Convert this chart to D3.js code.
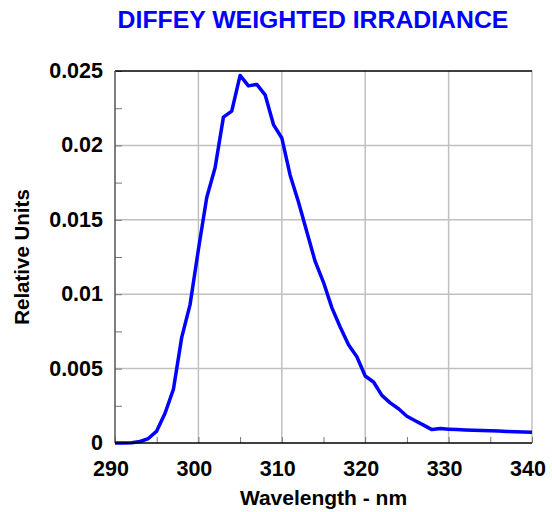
<!DOCTYPE html>
<html>
<head>
<meta charset="utf-8">
<script src="https://cdn.jsdelivr.net/npm/d3@7"></script>
<style>
  body { margin: 0; background: #fff; }
  svg { display: block; font-family: "Liberation Sans", Arial, sans-serif; font-weight: bold; }
</style>
</head>
<body>
<svg id="chart" width="552" height="512"></svg>
<script>
const width = 552;
const height = 512;
const margin = { top: 71, right: 20, bottom: 69, left: 115 };

// wavelength (nm) and Diffey weighted irradiance
const wavelengths = [
  290, 291, 292, 293, 294, 295, 296, 297, 298, 299,
  300, 301, 302, 303, 304, 305, 306, 307, 308, 309,
  310, 311, 312, 313, 314, 315, 316, 317, 318, 319,
  320, 321, 322, 323, 324, 325, 326, 327, 328, 329,
  330, 331, 332, 333, 334, 335, 336, 337, 338, 339, 340
];
const irradiance = [
  0, 0, 0.00002, 0.0001, 0.0003, 0.0008, 0.0020, 0.0036, 0.0071, 0.0093,
  0.0130, 0.0165, 0.0185, 0.0219, 0.0223, 0.0247, 0.0240, 0.0241, 0.0234, 0.0214,
  0.0205, 0.0180, 0.0162, 0.0142, 0.0122, 0.0108, 0.0091, 0.0078, 0.0066, 0.0058,
  0.0045, 0.0041, 0.0032, 0.0027, 0.0023, 0.0018, 0.0015, 0.0012, 0.0009, 0.00097,
  0.00093, 0.0009, 0.00088, 0.00086, 0.00084, 0.00082, 0.0008, 0.00078, 0.00076, 0.00074, 0.00072
];

const xTicks = [290, 300, 310, 320, 330, 340];
const yTicks = [0, 0.005, 0.01, 0.015, 0.02, 0.025];
const yTickLabels = ['0', '0.005', '0.01', '0.015', '0.02', '0.025'];

const data = wavelengths.map((w, i) => ({ w, v: irradiance[i] }));

const svg = d3.select('#chart');
const plotW = width - margin.left - margin.right;
const plotH = height - margin.top - margin.bottom;

const x = d3.scaleLinear().domain([290, 340]).range([margin.left, margin.left + plotW]);
const y = d3.scaleLinear().domain([0, 0.025]).range([margin.top + plotH, margin.top]);

// grid
svg.append('g')
  .selectAll('line')
  .data(xTicks.slice(1))
  .join('line')
  .attr('x1', d => x(d)).attr('x2', d => x(d))
  .attr('y1', y(0)).attr('y2', y(0.025))
  .attr('stroke', '#c0c0c0').attr('stroke-width', 1.5);

svg.append('g')
  .selectAll('line')
  .data(yTicks.slice(1, -1))
  .join('line')
  .attr('x1', x(290)).attr('x2', x(340))
  .attr('y1', d => y(d)).attr('y2', d => y(d))
  .attr('stroke', '#c0c0c0').attr('stroke-width', 1.5);

// minor ticks, pointing inward
svg.append('g')
  .call(d3.axisRight(y).tickValues(d3.range(0, 0.0251, 0.0025)).tickSize(7).tickFormat(''))
  .attr('transform', `translate(${x(290)},0)`)
  .call(g => g.select('.domain').remove())
  .call(g => g.selectAll('.tick line').attr('stroke', '#777').attr('stroke-width', 1));

svg.append('g')
  .call(d3.axisTop(x).tickValues(d3.range(290, 340.1, 5)).tickSize(6).tickFormat(''))
  .attr('transform', `translate(0,${y(0)})`)
  .call(g => g.select('.domain').remove())
  .call(g => g.selectAll('.tick line').attr('stroke', '#777').attr('stroke-width', 1));

// frame
svg.append('line')
  .attr('x1', x(290)).attr('x2', x(340)).attr('y1', y(0.025)).attr('y2', y(0.025))
  .attr('stroke', '#000').attr('stroke-width', 1.5);
svg.append('line')
  .attr('x1', x(290)).attr('x2', x(290)).attr('y1', y(0.025)).attr('y2', y(0))
  .attr('stroke', '#555').attr('stroke-width', 1.5);

// curve
const line = d3.line().x(d => x(d.w)).y(d => y(d.v));
svg.append('path')
  .datum(data)
  .attr('d', line)
  .attr('fill', 'none')
  .attr('stroke', '#0000ff')
  .attr('stroke-width', 3.5)
  .attr('stroke-linejoin', 'round');

svg.append('line')
  .attr('x1', x(290)).attr('x2', x(340)).attr('y1', y(0)).attr('y2', y(0))
  .attr('stroke', '#000').attr('stroke-width', 1.5);

// tick labels
svg.append('g')
  .selectAll('text')
  .data(yTicks)
  .join('text')
  .attr('x', x(290) - 12)
  .attr('y', d => y(d) + 7)
  .attr('text-anchor', 'end')
  .attr('font-size', 21.5)
  .text((d, i) => yTickLabels[i]);

svg.append('g')
  .selectAll('text')
  .data(xTicks)
  .join('text')
  .attr('x', d => x(d) - 4)
  .attr('y', y(0) + 33)
  .attr('text-anchor', 'middle')
  .attr('font-size', 21.5)
  .text(d => d);

// titles
svg.append('text')
  .attr('x', 313).attr('y', 28)
  .attr('text-anchor', 'middle')
  .attr('font-size', 24.8)
  .attr('fill', '#0000ff')
  .text('DIFFEY WEIGHTED IRRADIANCE');

svg.append('text')
  .attr('x', margin.left + plotW / 2).attr('y', 505)
  .attr('text-anchor', 'middle')
  .attr('font-size', 21)
  .text('Wavelength - nm');

svg.append('text')
  .attr('transform', `translate(29,${margin.top + plotH / 2}) rotate(-90)`)
  .attr('text-anchor', 'middle')
  .attr('font-size', 20.5)
  .text('Relative Units');
</script>
</body>
</html>
